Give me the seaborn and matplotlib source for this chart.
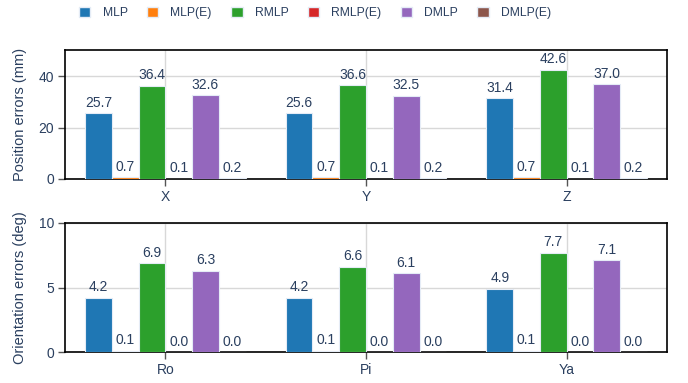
import matplotlib
matplotlib.use("Agg")
import matplotlib.pyplot as plt
import matplotlib.patches as mpatches
import seaborn as sns
import pandas as pd

# Model variants and their colours
models = ["MLP", "MLP(E)", "RMLP", "RMLP(E)", "DMLP", "DMLP(E)"]
colors = ["#1f77b4", "#ff7f0e", "#2ca02c", "#d62728", "#9467bd", "#8c564b"]

# Position errors (mm) per axis
pos_axes = ["X", "Y", "Z"]
pos_mlp = [25.7, 25.6, 31.4]
pos_mlp_e = [0.7, 0.7, 0.7]
pos_rmlp = [36.4, 36.6, 42.6]
pos_rmlp_e = [0.1, 0.1, 0.1]
pos_dmlp = [32.6, 32.5, 37.0]
pos_dmlp_e = [0.2, 0.2, 0.2]

# Orientation errors (deg) per rotation
ori_axes = ["Ro", "Pi", "Ya"]
ori_mlp = [4.2, 4.2, 4.9]
ori_mlp_e = [0.1, 0.1, 0.1]
ori_rmlp = [6.9, 6.6, 7.7]
ori_rmlp_e = [0.0, 0.0, 0.0]
ori_dmlp = [6.3, 6.1, 7.1]
ori_dmlp_e = [0.0, 0.0, 0.0]


def long_frame(cats, series):
    rows = []
    for name, vals in zip(models, series):
        for c, v in zip(cats, vals):
            rows.append({"axis": c, "model": name, "value": v})
    return pd.DataFrame(rows)


pos_df = long_frame(pos_axes, [pos_mlp, pos_mlp_e, pos_rmlp, pos_rmlp_e, pos_dmlp, pos_dmlp_e])
ori_df = long_frame(ori_axes, [ori_mlp, ori_mlp_e, ori_rmlp, ori_rmlp_e, ori_dmlp, ori_dmlp_e])

sns.set_theme(style="white")
plt.rcParams["font.family"] = ["Liberation Sans", "DejaVu Sans"]

TXT = "#2a3f5f"
W, H = 688, 383
fig = plt.figure(figsize=(W / 100, H / 100), dpi=100)
fig.patch.set_facecolor("white")


def px_axes(left, right, top, bottom):
    return fig.add_axes([left / W, 1 - bottom / H, (right - left) / W, (bottom - top) / H])


ax1 = px_axes(65, 667, 50, 179)
ax2 = px_axes(65, 667, 223, 352)


def draw(ax, df, ylim, yticks, ylabel):
    sns.barplot(data=df, x="axis", y="value", hue="model", hue_order=models,
                palette=colors, saturation=1, width=0.8, errorbar=None, ax=ax,
                edgecolor="#e5ecf6", linewidth=0.8, legend=False, zorder=3)
    for cont in ax.containers:
        ax.bar_label(cont, fmt="%.1f", padding=2.5, fontsize=10, color=TXT)
    ax.set_ylim(*ylim)
    ax.set_yticks(yticks)
    ax.set_xlim(-0.5, 2.5)
    ax.set_axisbelow(True)
    ax.grid(True, color="#d8d8d8", linewidth=1)
    for s in ax.spines.values():
        s.set_visible(True)
        s.set_color("black")
        s.set_linewidth(1.2)
    ax.tick_params(axis="both", which="both", length=5, width=1, color="#555555",
                   labelcolor=TXT, labelsize=10, pad=3, left=True, bottom=True)
    ax.set_xlabel("")
    ax.set_ylabel(ylabel, fontsize=10.5, color=TXT)
    ax.yaxis.set_label_coords(-38 / 602, 0.5)


draw(ax1, pos_df, (0, 50.3), [0, 20, 40], "Position errors (mm)")
draw(ax2, ori_df, (0, 10), [0, 5, 10], "Orientation errors (deg)")

handles = [mpatches.Patch(facecolor=c, edgecolor="#e5ecf6", label=m) for m, c in zip(models, colors)]
fig.legend(handles=handles, loc="center left", bbox_to_anchor=(79 / W, 1 - 13 / H),
           ncol=6, frameon=False, fontsize=8.7, labelcolor=TXT,
           borderpad=0, borderaxespad=0,
           handlelength=0.95, handleheight=0.95, handletextpad=1.0, columnspacing=1.6)

fig.savefig("out.png", dpi=100, facecolor="white")
